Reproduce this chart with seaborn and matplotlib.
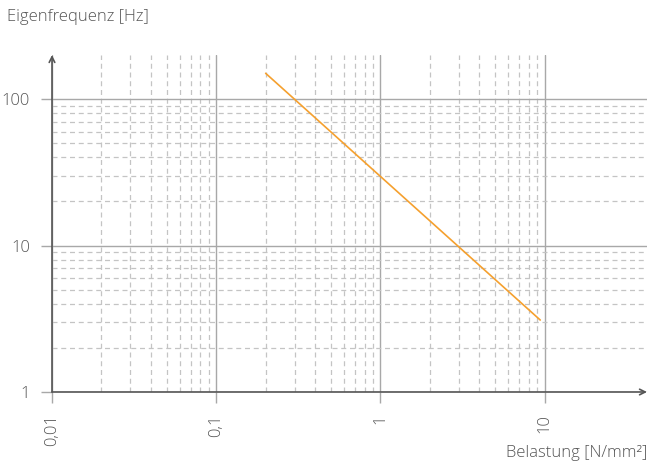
import matplotlib
matplotlib.use("Agg")
import matplotlib.pyplot as plt
import seaborn as sns
from matplotlib.ticker import FixedLocator, NullFormatter

# data
belastung = [0.2, 9.4]       # N/mm²
frequenz = [150, 3.1]        # Hz
x_ticks = [0.01, 0.1, 1, 10]
x_labels = ["0,01", "0,1", "1", "10"]
y_ticks = [1, 10, 100]
y_labels = ["1", "10", "100"]

sns.set_style("white")
plt.rcParams["font.family"] = ["Open Sans", "DejaVu Sans"]

text_col = "#555555"
axis_col = "#555555"

fig = plt.figure(figsize=(6.51, 4.69), dpi=100)
ax = fig.add_axes([52 / 651, 77 / 469, 595 / 651, 337 / 469])

sns.lineplot(x=belastung, y=frequenz, ax=ax, color="#f5a02e", linewidth=1.2, zorder=5)

ax.set_xscale("log")
ax.set_yscale("log")
ax.set_xlim(0.01, 42)
ax.set_ylim(1, 200)

# minor grid only inside the labelled decades
x_minor = [m * d for d in (0.01, 0.1, 1) for m in range(2, 10)]
y_minor = [m * d for d in (1, 10) for m in range(2, 10)]

ax.xaxis.set_major_locator(FixedLocator(x_ticks))
ax.yaxis.set_major_locator(FixedLocator(y_ticks))
ax.set_xticklabels(x_labels, rotation=90)
ax.set_yticklabels(y_labels)
ax.xaxis.set_minor_locator(FixedLocator(x_minor))
ax.yaxis.set_minor_locator(FixedLocator(y_minor))
ax.xaxis.set_minor_formatter(NullFormatter())
ax.yaxis.set_minor_formatter(NullFormatter())

ax.grid(which="major", color="#a8a8a8", linewidth=1.0, linestyle="-")
ax.grid(which="minor", color="#c4c4c4", linewidth=0.9, linestyle=(0, (4, 3)))
ax.set_axisbelow(True)

ax.tick_params(which="major", length=8, width=1, color="#a8a8a8",
               labelcolor=text_col, labelsize=12, pad=8)
ax.tick_params(which="minor", length=0)
ax.tick_params(axis="x", which="major", bottom=True)
ax.tick_params(axis="y", which="major", left=True)
for lab in ax.get_xticklabels() + ax.get_yticklabels():
    lab.set_fontweight("light")

for s in ax.spines.values():
    s.set_visible(False)

# axes with arrow heads
ax.annotate("", xy=(1.0, 0), xytext=(0, 0), xycoords="axes fraction",
            arrowprops=dict(arrowstyle="->", color=axis_col, lw=1.2,
                            shrinkA=0, shrinkB=0, mutation_scale=10))
ax.annotate("", xy=(0, 1.0), xytext=(0, 0), xycoords="axes fraction",
            arrowprops=dict(arrowstyle="->", color=axis_col, lw=1.2,
                            shrinkA=0, shrinkB=0, mutation_scale=10))

fig.text(7 / 651, 1 - 17 / 469, "Eigenfrequenz [Hz]", color=text_col,
         fontsize=12, fontweight="light", ha="left", va="center")
fig.text(647 / 651, 1 - 453 / 469, "Belastung [N/mm²]", color=text_col,
         fontsize=12, fontweight="light", ha="right", va="center")

fig.savefig("out.png", dpi=100)
